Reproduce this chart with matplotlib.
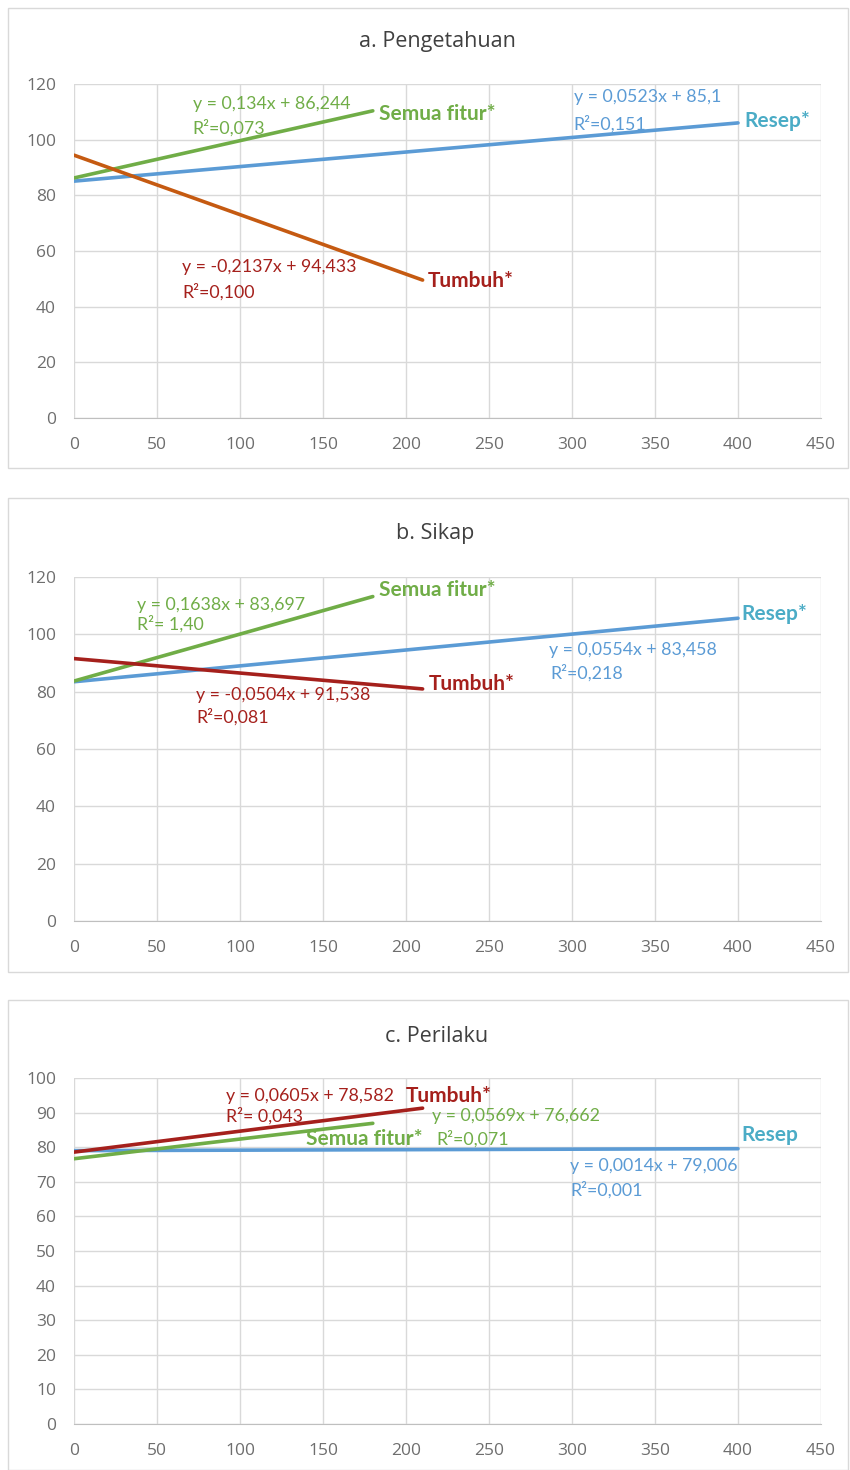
import matplotlib.pyplot as plt
import matplotlib.patches as patches
import numpy as np

plt.rcParams['font.family'] = ['Lato', 'DejaVu Sans']

# data: regression lines per panel (slope, intercept, max x)
series = ['Semua fitur', 'Resep', 'Tumbuh']
x_end = [180, 400, 210]

slope_a = [0.134, 0.0523, -0.2137]
icpt_a = [86.244, 85.1, 94.433]
r2_a = ['0,073', '0,151', '0,100']

slope_b = [0.1638, 0.0554, -0.0504]
icpt_b = [83.697, 83.458, 91.538]
r2_b = [' 1,40', '0,218', '0,081']

slope_c = [0.0569, 0.0014, 0.0605]
icpt_c = [76.662, 79.006, 78.582]
r2_c = ['0,071', '0,001', ' 0,043']

titles = ['a. Pengetahuan', 'b. Sikap', 'c. Perilaku']

green = '#70AD47'
blue = '#5B9BD5'
teal = '#4BACC6'
dred = '#A5201C'
orange = '#C55A11'
tick_col = '#6E6E6E'
ui_font = ['Open Sans', 'DejaVu Sans']

fig = plt.figure(figsize=(8.5, 14.7), dpi=100)

# panel frames (pixels: top, bottom)
for top, bot in [(8, 468), (498, 972), (1000, 1470)]:
    fig.patches.append(patches.Rectangle((8 / 850, 1 - bot / 1470), 840 / 850, (bot - top) / 1470,
                                         transform=fig.transFigure, fill=False,
                                         edgecolor='#D9D9D9', linewidth=1))

left, width = 74 / 850, 747 / 850
axes_px = [(84, 418), (577, 921), (1078, 1424)]


def setup(ax, ymax, ystep):
    ax.set_xlim(0, 450)
    ax.set_ylim(0, ymax)
    ax.set_xticks(np.arange(0, 451, 50))
    ax.set_yticks(np.arange(0, ymax + 1, ystep))
    ax.grid(True, color='#D9D9D9', linewidth=1)
    ax.set_axisbelow(True)
    for s in ['top', 'right', 'left']:
        ax.spines[s].set_visible(False)
    ax.spines['bottom'].set_color('#BFBFBF')
    ax.tick_params(axis='x', length=0, labelsize=12.5, colors=tick_col, pad=14)
    ax.tick_params(axis='y', length=0, labelsize=12.5, colors=tick_col, pad=13)
    for t in ax.get_xticklabels() + ax.get_yticklabels():
        t.set_family(ui_font)


def line(ax, k, slope, icpt, color):
    xs = np.array([0, x_end[k]])
    ax.plot(xs, slope[k] * xs + icpt[k], color=color, linewidth=2.6, solid_capstyle='round')


def title(x, y, s):
    fig.text(x / 850, 1 - y / 1470, s, fontsize=15.5, color='#404040', ha='center', va='center',
             family=ui_font)


eq_fs = 12.8
lab_fs = 15

# ---- panel a ----
top, bot = axes_px[0]
ax = fig.add_axes([left, 1 - bot / 1470, width, (bot - top) / 1470])
setup(ax, 120, 20)
line(ax, 1, slope_a, icpt_a, blue)
line(ax, 0, slope_a, icpt_a, green)
line(ax, 2, slope_a, icpt_a, orange)
ax.text(71.5, 112.8, 'y = 0,134x + 86,244', color=green, fontsize=eq_fs, va='center')
ax.text(71.5, 104.2, 'R²=' + r2_a[0], color=green, fontsize=eq_fs, va='center')
ax.text(184, 109.2, 'Semua fitur*', color=green, fontsize=lab_fs, fontweight='bold', va='center')
ax.text(301, 115.3, 'y = 0,0523x + 85,1', color=blue, fontsize=eq_fs, va='center')
ax.text(301, 105.6, 'R²=' + r2_a[1], color=blue, fontsize=eq_fs, va='center')
ax.text(404, 106.7, 'Resep*', color=teal, fontsize=lab_fs, fontweight='bold', va='center')
ax.text(65, 54.3, 'y = -0,2137x + 94,433', color=dred, fontsize=eq_fs, va='center')
ax.text(65, 45.3, 'R²=' + r2_a[2], color=dred, fontsize=eq_fs, va='center')
ax.text(213, 49.2, 'Tumbuh*', color=dred, fontsize=lab_fs, fontweight='bold', va='center')
title(437, 42, titles[0])

# ---- panel b ----
top, bot = axes_px[1]
ax = fig.add_axes([left, 1 - bot / 1470, width, (bot - top) / 1470])
setup(ax, 120, 20)
line(ax, 1, slope_b, icpt_b, blue)
line(ax, 0, slope_b, icpt_b, green)
line(ax, 2, slope_b, icpt_b, dred)
ax.text(184, 115.5, 'Semua fitur*', color=green, fontsize=lab_fs, fontweight='bold', va='center')
ax.text(38, 110.2, 'y = 0,1638x + 83,697', color=green, fontsize=eq_fs, va='center')
ax.text(38, 103.6, 'R²=' + r2_b[0], color=green, fontsize=eq_fs, va='center')
ax.text(402, 107.1, 'Resep*', color=teal, fontsize=lab_fs, fontweight='bold', va='center')
ax.text(286, 94.5, 'y = 0,0554x + 83,458', color=blue, fontsize=eq_fs, va='center')
ax.text(287, 86.5, 'R²=' + r2_b[1], color=blue, fontsize=eq_fs, va='center')
ax.text(214, 82.7, 'Tumbuh*', color=dred, fontsize=lab_fs, fontweight='bold', va='center')
ax.text(73.5, 78.8, 'y = -0,0504x + 91,538', color=dred, fontsize=eq_fs, va='center')
ax.text(73.5, 71.2, 'R²=' + r2_b[2], color=dred, fontsize=eq_fs, va='center')
title(435, 533, titles[1])

# ---- panel c ----
top, bot = axes_px[2]
ax = fig.add_axes([left, 1 - bot / 1470, width, (bot - top) / 1470])
setup(ax, 100, 10)
line(ax, 1, slope_c, icpt_c, blue)
line(ax, 0, slope_c, icpt_c, green)
line(ax, 2, slope_c, icpt_c, dred)
ax.text(91.5, 94.8, 'y = 0,0605x + 78,582', color=dred, fontsize=eq_fs, va='center')
ax.text(200, 94.8, 'Tumbuh*', color=dred, fontsize=lab_fs, fontweight='bold', va='center')
ax.text(91.5, 89.0, 'R²=' + r2_c[2], color=dred, fontsize=eq_fs, va='center')
ax.text(215.5, 89.0, 'y = 0,0569x + 76,662', color=green, fontsize=eq_fs, va='center')
ax.text(140, 82.4, 'Semua fitur*', color=green, fontsize=lab_fs, fontweight='bold', va='center')
ax.text(218, 82.4, 'R²=' + r2_c[0], color=green, fontsize=eq_fs, va='center')
ax.text(402, 83.5, 'Resep', color=teal, fontsize=lab_fs, fontweight='bold', va='center')
ax.text(299, 74.6, 'y = 0,0014x + 79,006', color=blue, fontsize=eq_fs, va='center')
ax.text(299, 67.6, 'R²=' + r2_c[1], color=blue, fontsize=eq_fs, va='center')
title(437, 1037, titles[2])

fig.savefig('out.png', dpi=100)
